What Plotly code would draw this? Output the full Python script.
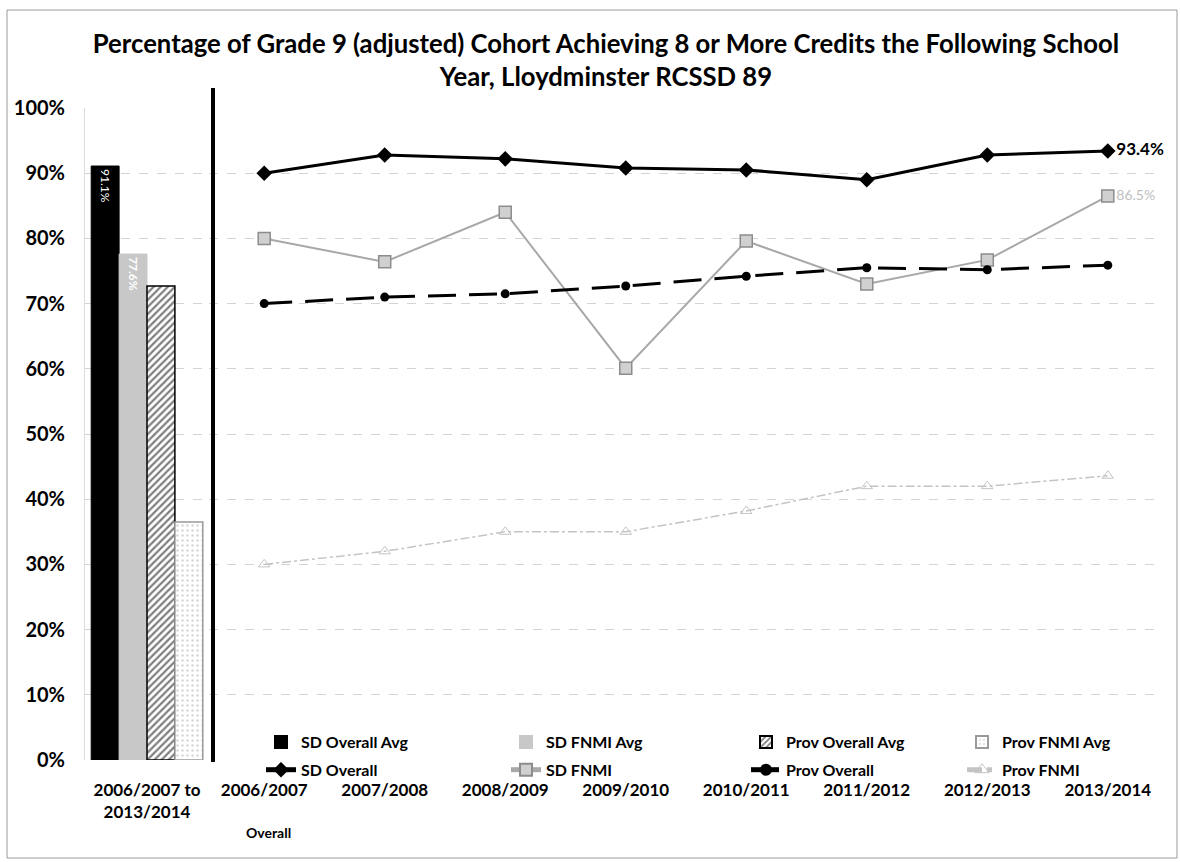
import plotly.graph_objects as go

# School years shown on the trend panel
years = ["2006/2007", "2007/2008", "2008/2009", "2009/2010",
         "2010/2011", "2011/2012", "2012/2013", "2013/2014"]

# Yearly percentages
sd_overall = [90.0, 92.8, 92.2, 90.8, 90.5, 89.0, 92.8, 93.4]
sd_fnmi = [80.0, 76.4, 84.0, 60.1, 79.6, 73.0, 76.7, 86.5]
prov_overall = [70.0, 71.0, 71.5, 72.7, 74.2, 75.5, 75.2, 75.9]
prov_fnmi = [30.0, 32.0, 35.0, 35.0, 38.2, 42.0, 42.0, 43.6]

# Multi-year averages (left panel)
avg_category = ["2006/2007 to<br>2013/2014"]
sd_overall_avg = [91.1]
sd_fnmi_avg = [77.6]
prov_overall_avg = [72.7]
prov_fnmi_avg = [36.5]

y_ticks = [0, 10, 20, 30, 40, 50, 60, 70, 80, 90, 100]
y_tick_text = [f"{v}%" for v in y_ticks]

W, H = 1180, 862
TOP, BOTTOM = 108, 102
PLOT_H = H - TOP - BOTTOM
FONT = "Lato"


def px_x(x):
    return x / W


def px_y(y):
    return (H - BOTTOM - y) / PLOT_H


fig = go.Figure()

# ---- average bars ----
fig.add_trace(go.Bar(
    x=avg_category, y=sd_overall_avg, name="SD Overall Avg",
    marker=dict(color="#000000", line=dict(color="#000000", width=1)),
    text=[f"{v:.1f}%" for v in sd_overall_avg], textposition="inside",
    insidetextanchor="end", textangle=90,
    textfont=dict(color="white", size=12, family=FONT),
    xaxis="x", yaxis="y", legend="legend", legendgroup="a1",
))
fig.add_trace(go.Bar(
    x=avg_category, y=sd_fnmi_avg, name="SD FNMI Avg",
    marker=dict(color="#c8c8c8", line=dict(color="#c8c8c8", width=1)),
    text=[f"{v:.1f}%" for v in sd_fnmi_avg], textposition="inside",
    insidetextanchor="end", textangle=90,
    textfont=dict(color="white", size=12, family=FONT, weight="bold"),
    xaxis="x", yaxis="y", legend="legend2", legendgroup="a2",
))
fig.add_trace(go.Bar(
    x=avg_category, y=prov_overall_avg, name="Prov Overall Avg",
    marker=dict(color="white", line=dict(color="#000000", width=1.5),
                pattern=dict(shape="/", fgcolor="#000000", bgcolor="white",
                             size=5, solidity=0.45)),
    xaxis="x", yaxis="y", legend="legend3", legendgroup="a3",
))
fig.add_trace(go.Bar(
    x=avg_category, y=prov_fnmi_avg, name="Prov FNMI Avg",
    marker=dict(color="white", line=dict(color="#9a9a9a", width=1.5),
                pattern=dict(shape=".", fgcolor="#b0b0b0", bgcolor="white",
                             size=5, solidity=0.2)),
    xaxis="x", yaxis="y", legend="legend4", legendgroup="a4",
))

# ---- yearly lines ----
fig.add_trace(go.Scatter(
    x=years, y=sd_overall, name="SD Overall", mode="lines+markers+text",
    line=dict(color="#000000", width=3),
    marker=dict(symbol="diamond", size=12, color="#000000"),
    text=[""] * (len(years) - 1) + [f"{sd_overall[-1]:.1f}%"],
    textposition="middle right",
    textfont=dict(color="#000000", size=17, family=FONT, weight="bold"),
    cliponaxis=False, xaxis="x2", yaxis="y2", legend="legend",
    legendgroup="b1",
))
fig.add_trace(go.Scatter(
    x=years, y=sd_fnmi, name="SD FNMI", mode="lines+markers+text",
    line=dict(color="#a8a8a8", width=2),
    marker=dict(symbol="square", size=12, color="#d0d0d0",
                line=dict(color="#8c8c8c", width=1.5)),
    text=[""] * (len(years) - 1) + [f"{sd_fnmi[-1]:.1f}%"],
    textposition="middle right",
    textfont=dict(color="#c0c0c0", size=14, family=FONT),
    cliponaxis=False, xaxis="x2", yaxis="y2", legend="legend2",
    legendgroup="b2",
))
fig.add_trace(go.Scatter(
    x=years, y=prov_overall, name="Prov Overall", mode="lines+markers",
    line=dict(color="#000000", width=3, dash="28px,13px"),
    marker=dict(symbol="circle", size=9, color="#000000"),
    cliponaxis=False, xaxis="x2", yaxis="y2", legend="legend3",
    legendgroup="b3",
))
fig.add_trace(go.Scatter(
    x=years, y=prov_fnmi, name="Prov FNMI", mode="lines+markers",
    line=dict(color="#c4c4c4", width=1.5, dash="dashdot"),
    marker=dict(symbol="triangle-up-open", size=10, color="#c4c4c4"),
    cliponaxis=False, xaxis="x2", yaxis="y2", legend="legend4",
    legendgroup="b4",
))

grid = dict(showgrid=True, gridcolor="#d4d4d4", griddash="dash", gridwidth=1)


def legend_column(text_x):
    # one legend column: average bar on top, yearly line below
    return dict(orientation="v", x=px_x(text_x - 39), xanchor="left",
                y=px_y(725), yanchor="top", bgcolor="rgba(0,0,0,0)",
                tracegroupgap=4, traceorder="grouped",
                font=dict(size=16, weight="bold", family=FONT),
                itemsizing="constant")


fig.update_layout(
    width=W, height=H,
    margin=dict(l=0, r=0, t=TOP, b=BOTTOM, autoexpand=False),
    paper_bgcolor="white", plot_bgcolor="rgba(0,0,0,0)",
    font=dict(family=FONT, color="#000000"),
    barmode="group", bargap=0.1, bargroupgap=0,
    title=dict(
        text="Percentage of Grade 9 (adjusted) Cohort Achieving 8 or More Credits the Following School<br>Year, Lloydminster RCSSD 89",
        x=px_x(606), xanchor="center", y=1 - 53 / H, yanchor="top",
        font=dict(family=FONT, size=25.7, weight="bold", color="#000000"),
    ),
    xaxis=dict(domain=[px_x(85), px_x(209)], type="category",
               tickfont=dict(size=17, weight="bold"), showgrid=False,
               ticks="", ticklabelstandoff=18, fixedrange=True),
    yaxis=dict(range=[0, 100], tickvals=y_ticks, ticktext=y_tick_text,
               tickfont=dict(size=20, weight="bold"), ticklabelstandoff=15,
               zeroline=False, showline=True, linecolor="#dcdcdc", **grid),
    xaxis2=dict(domain=[px_x(209), px_x(1163)], type="category",
                anchor="y2", tickfont=dict(size=17, weight="bold"),
                showgrid=False, ticks="", ticklabelstandoff=18),
    yaxis2=dict(range=[0, 100], tickvals=y_ticks, anchor="x2",
                showticklabels=False, zeroline=False, **grid),
    legend=legend_column(300),
    legend2=legend_column(545),
    legend3=legend_column(785),
    legend4=legend_column(1001),
    showlegend=True,
)

# Separator between the average panel and the yearly panel
fig.add_shape(type="line", xref="paper", yref="paper",
              x0=px_x(213), x1=px_x(213), y0=px_y(762), y1=px_y(88),
              line=dict(color="#000000", width=4))

# Outer frame of the chart
fig.add_shape(type="rect", xref="paper", yref="paper",
              x0=px_x(7), x1=px_x(1177), y0=px_y(858), y1=px_y(10),
              line=dict(color="#9a9a9a", width=1))

fig.add_annotation(text="Overall", xref="paper", yref="paper",
                   x=px_x(268), y=px_y(832), xanchor="center",
                   yanchor="middle", showarrow=False,
                   font=dict(size=14, weight="bold", family=FONT))

fig.write_html("out.html")
